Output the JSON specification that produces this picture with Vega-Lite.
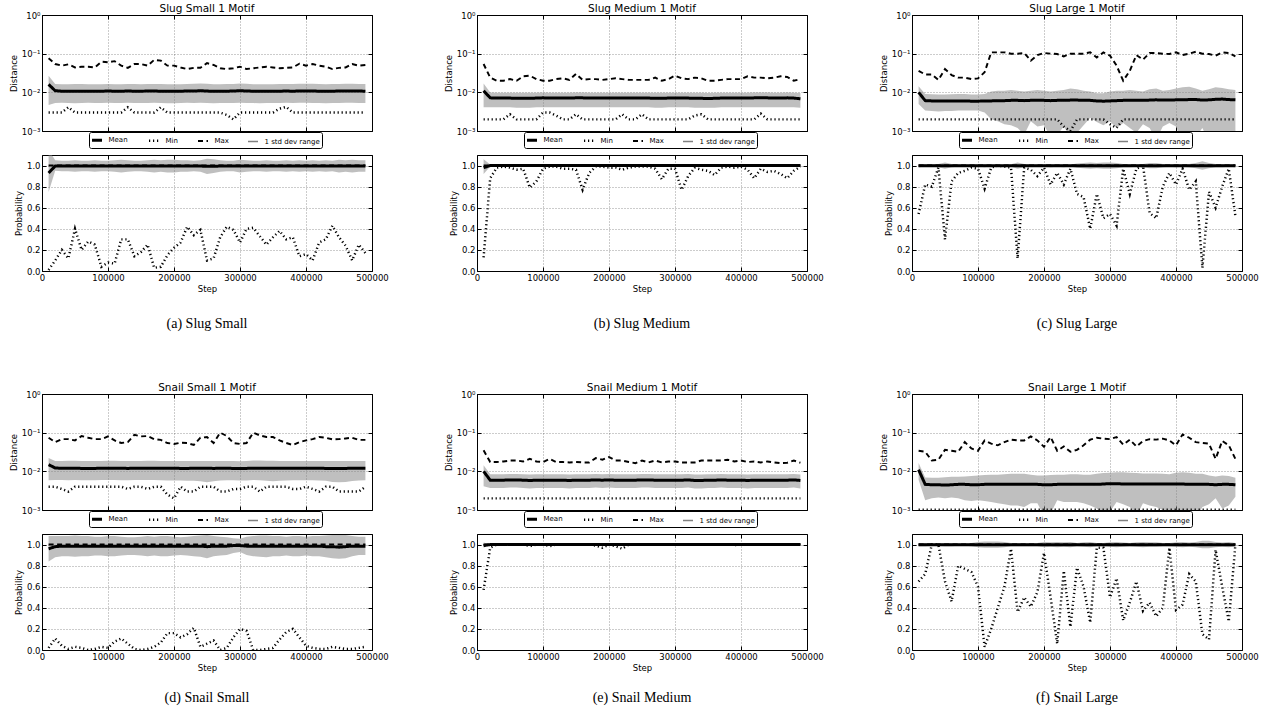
{
"$schema":"https://vega.github.io/schema/vega-lite/v6.json",
"background":"white",
"padding":{"left":8,"top":3,"right":0,"bottom":0},
"config":{
 "font":"DejaVu Sans",
 "view":{"stroke":"#000","strokeWidth":1},
 "axis":{"domain":false,"labelFont":"DejaVu Sans","labelFontSize":8.5,"labelColor":"#000","titleFont":"DejaVu Sans","titleFontSize":8.5,"titleFontWeight":"normal","titleColor":"#000","gridColor":"#000","gridOpacity":0.5,"gridDash":[1,2],"gridWidth":0.8,"tickColor":"#000","tickSize":-4,"labelPadding":6,"titlePadding":3,"labelFlush":false,"labelOverlap":false,"tickCount":20},
 "title":{"font":"DejaVu Sans","fontSize":10.5,"fontWeight":"normal","color":"#000","offset":-3},
 "legend":{"symbolType":"stroke","symbolSize":100,"labelFont":"DejaVu Sans","labelFontSize":7,"labelColor":"#000","strokeColor":"#000","fillColor":"#fff","padding":1.5,"cornerRadius":2,"columnPadding":15,"labelOffset":5}
},
"datasets":{
"a_d":[
{"s":10000,"Mean":0.016,"Min":0.003,"Max":0.076,"lo":0.0047,"hi":0.027},
{"s":20000,"Mean":0.011,"Min":0.003,"Max":0.054,"lo":0.0053,"hi":0.0165},
{"s":30000,"Mean":0.0107,"Min":0.003,"Max":0.049,"lo":0.0054,"hi":0.0162},
{"s":40000,"Mean":0.0106,"Min":0.0041,"Max":0.053,"lo":0.0053,"hi":0.0163},
{"s":50000,"Mean":0.0106,"Min":0.003,"Max":0.044,"lo":0.0052,"hi":0.0164},
{"s":60000,"Mean":0.0107,"Min":0.003,"Max":0.046,"lo":0.0053,"hi":0.0164},
{"s":70000,"Mean":0.0107,"Min":0.003,"Max":0.046,"lo":0.0054,"hi":0.0163},
{"s":80000,"Mean":0.0106,"Min":0.003,"Max":0.044,"lo":0.0053,"hi":0.0162},
{"s":90000,"Mean":0.0107,"Min":0.003,"Max":0.062,"lo":0.0053,"hi":0.0163},
{"s":100000,"Mean":0.0108,"Min":0.003,"Max":0.06,"lo":0.0054,"hi":0.0165},
{"s":110000,"Mean":0.0107,"Min":0.003,"Max":0.064,"lo":0.0053,"hi":0.0163},
{"s":120000,"Mean":0.0107,"Min":0.003,"Max":0.049,"lo":0.0053,"hi":0.0162},
{"s":130000,"Mean":0.0108,"Min":0.0041,"Max":0.043,"lo":0.0054,"hi":0.0164},
{"s":140000,"Mean":0.0107,"Min":0.003,"Max":0.054,"lo":0.0053,"hi":0.0164},
{"s":150000,"Mean":0.0107,"Min":0.003,"Max":0.054,"lo":0.0053,"hi":0.0163},
{"s":160000,"Mean":0.0108,"Min":0.003,"Max":0.049,"lo":0.0053,"hi":0.0164},
{"s":170000,"Mean":0.0108,"Min":0.003,"Max":0.069,"lo":0.0054,"hi":0.0165},
{"s":180000,"Mean":0.0107,"Min":0.0041,"Max":0.066,"lo":0.0053,"hi":0.0164},
{"s":190000,"Mean":0.0106,"Min":0.003,"Max":0.049,"lo":0.0052,"hi":0.0162},
{"s":200000,"Mean":0.0106,"Min":0.003,"Max":0.049,"lo":0.0052,"hi":0.0161},
{"s":210000,"Mean":0.0107,"Min":0.003,"Max":0.044,"lo":0.0053,"hi":0.0163},
{"s":220000,"Mean":0.0108,"Min":0.003,"Max":0.04,"lo":0.0054,"hi":0.0165},
{"s":230000,"Mean":0.0108,"Min":0.003,"Max":0.043,"lo":0.0053,"hi":0.0166},
{"s":240000,"Mean":0.011,"Min":0.003,"Max":0.043,"lo":0.0054,"hi":0.0168},
{"s":250000,"Mean":0.0108,"Min":0.003,"Max":0.057,"lo":0.0053,"hi":0.0166},
{"s":260000,"Mean":0.0106,"Min":0.003,"Max":0.051,"lo":0.0052,"hi":0.0162},
{"s":270000,"Mean":0.0107,"Min":0.003,"Max":0.042,"lo":0.0053,"hi":0.0163},
{"s":280000,"Mean":0.0107,"Min":0.0026,"Max":0.04,"lo":0.0053,"hi":0.0164},
{"s":290000,"Mean":0.0108,"Min":0.002,"Max":0.042,"lo":0.0053,"hi":0.0165},
{"s":300000,"Mean":0.011,"Min":0.003,"Max":0.046,"lo":0.0054,"hi":0.0168},
{"s":310000,"Mean":0.0108,"Min":0.003,"Max":0.04,"lo":0.0053,"hi":0.0166},
{"s":320000,"Mean":0.0107,"Min":0.003,"Max":0.042,"lo":0.0053,"hi":0.0163},
{"s":330000,"Mean":0.0106,"Min":0.003,"Max":0.044,"lo":0.0052,"hi":0.0162},
{"s":340000,"Mean":0.0106,"Min":0.003,"Max":0.046,"lo":0.0053,"hi":0.0162},
{"s":350000,"Mean":0.0107,"Min":0.003,"Max":0.044,"lo":0.0053,"hi":0.0163},
{"s":360000,"Mean":0.0107,"Min":0.0038,"Max":0.042,"lo":0.0053,"hi":0.0164},
{"s":370000,"Mean":0.0108,"Min":0.0042,"Max":0.043,"lo":0.0054,"hi":0.0165},
{"s":380000,"Mean":0.0107,"Min":0.003,"Max":0.044,"lo":0.0053,"hi":0.0164},
{"s":390000,"Mean":0.0108,"Min":0.003,"Max":0.055,"lo":0.0054,"hi":0.0166},
{"s":400000,"Mean":0.0109,"Min":0.003,"Max":0.049,"lo":0.0054,"hi":0.0167},
{"s":410000,"Mean":0.0108,"Min":0.003,"Max":0.054,"lo":0.0053,"hi":0.0166},
{"s":420000,"Mean":0.0107,"Min":0.003,"Max":0.049,"lo":0.0053,"hi":0.0164},
{"s":430000,"Mean":0.0106,"Min":0.003,"Max":0.046,"lo":0.0052,"hi":0.0163},
{"s":440000,"Mean":0.0107,"Min":0.003,"Max":0.04,"lo":0.0053,"hi":0.0164},
{"s":450000,"Mean":0.0108,"Min":0.003,"Max":0.043,"lo":0.0053,"hi":0.0165},
{"s":460000,"Mean":0.0109,"Min":0.003,"Max":0.044,"lo":0.0054,"hi":0.0166},
{"s":470000,"Mean":0.0109,"Min":0.003,"Max":0.054,"lo":0.0054,"hi":0.0166},
{"s":480000,"Mean":0.0108,"Min":0.003,"Max":0.049,"lo":0.0053,"hi":0.0165},
{"s":490000,"Mean":0.0107,"Min":0.003,"Max":0.051,"lo":0.0053,"hi":0.0164}],
"a_p":[
{"s":10000,"Mean":0.93,"Min":0.01,"Max":1,"lo":0.75,"hi":1.15},
{"s":20000,"Mean":0.995,"Min":0.1,"Max":1,"lo":0.95,"hi":1.05},
{"s":30000,"Mean":0.995,"Min":0.2,"Max":1,"lo":0.945,"hi":1.045},
{"s":40000,"Mean":0.995,"Min":0.12,"Max":1,"lo":0.945,"hi":1.045},
{"s":50000,"Mean":0.995,"Min":0.4,"Max":1,"lo":0.94,"hi":1.05},
{"s":60000,"Mean":0.995,"Min":0.2,"Max":1,"lo":0.945,"hi":1.045},
{"s":70000,"Mean":0.995,"Min":0.28,"Max":1,"lo":0.945,"hi":1.045},
{"s":80000,"Mean":0.995,"Min":0.25,"Max":1,"lo":0.94,"hi":1.05},
{"s":90000,"Mean":0.995,"Min":0.04,"Max":1,"lo":0.945,"hi":1.045},
{"s":100000,"Mean":0.995,"Min":0.08,"Max":1,"lo":0.945,"hi":1.045},
{"s":110000,"Mean":0.995,"Min":0.07,"Max":1,"lo":0.94,"hi":1.05},
{"s":120000,"Mean":0.995,"Min":0.3,"Max":1,"lo":0.935,"hi":1.055},
{"s":130000,"Mean":0.995,"Min":0.3,"Max":1,"lo":0.94,"hi":1.05},
{"s":140000,"Mean":0.995,"Min":0.14,"Max":1,"lo":0.945,"hi":1.045},
{"s":150000,"Mean":0.995,"Min":0.18,"Max":1,"lo":0.945,"hi":1.045},
{"s":160000,"Mean":0.995,"Min":0.25,"Max":1,"lo":0.94,"hi":1.05},
{"s":170000,"Mean":0.995,"Min":0.03,"Max":1,"lo":0.935,"hi":1.055},
{"s":180000,"Mean":0.995,"Min":0.04,"Max":1,"lo":0.94,"hi":1.05},
{"s":190000,"Mean":0.995,"Min":0.15,"Max":1,"lo":0.935,"hi":1.055},
{"s":200000,"Mean":0.995,"Min":0.22,"Max":1,"lo":0.935,"hi":1.055},
{"s":210000,"Mean":0.995,"Min":0.27,"Max":1,"lo":0.94,"hi":1.05},
{"s":220000,"Mean":0.995,"Min":0.42,"Max":1,"lo":0.94,"hi":1.05},
{"s":230000,"Mean":0.995,"Min":0.34,"Max":1,"lo":0.945,"hi":1.045},
{"s":240000,"Mean":0.995,"Min":0.39,"Max":1,"lo":0.94,"hi":1.05},
{"s":250000,"Mean":0.993,"Min":0.1,"Max":1,"lo":0.92,"hi":1.065},
{"s":260000,"Mean":0.993,"Min":0.12,"Max":1,"lo":0.93,"hi":1.06},
{"s":270000,"Mean":0.995,"Min":0.32,"Max":1,"lo":0.94,"hi":1.05},
{"s":280000,"Mean":0.995,"Min":0.42,"Max":1,"lo":0.945,"hi":1.045},
{"s":290000,"Mean":0.995,"Min":0.39,"Max":1,"lo":0.945,"hi":1.045},
{"s":300000,"Mean":0.995,"Min":0.27,"Max":1,"lo":0.935,"hi":1.055},
{"s":310000,"Mean":0.995,"Min":0.4,"Max":1,"lo":0.94,"hi":1.05},
{"s":320000,"Mean":0.995,"Min":0.41,"Max":1,"lo":0.945,"hi":1.045},
{"s":330000,"Mean":0.995,"Min":0.33,"Max":1,"lo":0.945,"hi":1.045},
{"s":340000,"Mean":0.995,"Min":0.25,"Max":1,"lo":0.94,"hi":1.05},
{"s":350000,"Mean":0.995,"Min":0.32,"Max":1,"lo":0.945,"hi":1.045},
{"s":360000,"Mean":0.995,"Min":0.38,"Max":1,"lo":0.945,"hi":1.045},
{"s":370000,"Mean":0.995,"Min":0.3,"Max":1,"lo":0.94,"hi":1.05},
{"s":380000,"Mean":0.995,"Min":0.32,"Max":1,"lo":0.945,"hi":1.045},
{"s":390000,"Mean":0.995,"Min":0.14,"Max":1,"lo":0.94,"hi":1.05},
{"s":400000,"Mean":0.995,"Min":0.16,"Max":1,"lo":0.945,"hi":1.045},
{"s":410000,"Mean":0.995,"Min":0.1,"Max":1,"lo":0.94,"hi":1.05},
{"s":420000,"Mean":0.995,"Min":0.27,"Max":1,"lo":0.945,"hi":1.045},
{"s":430000,"Mean":0.995,"Min":0.3,"Max":1,"lo":0.94,"hi":1.05},
{"s":440000,"Mean":0.995,"Min":0.43,"Max":1,"lo":0.945,"hi":1.045},
{"s":450000,"Mean":0.995,"Min":0.32,"Max":1,"lo":0.935,"hi":1.055},
{"s":460000,"Mean":0.995,"Min":0.24,"Max":1,"lo":0.94,"hi":1.05},
{"s":470000,"Mean":0.995,"Min":0.1,"Max":1,"lo":0.935,"hi":1.055},
{"s":480000,"Mean":0.995,"Min":0.25,"Max":1,"lo":0.94,"hi":1.05},
{"s":490000,"Mean":0.995,"Min":0.17,"Max":1,"lo":0.94,"hi":1.05}],
"b_d":[
{"s":10000,"Mean":0.011,"Min":0.002,"Max":0.054,"lo":0.0041,"hi":0.017},
{"s":20000,"Mean":0.0072,"Min":0.002,"Max":0.024,"lo":0.0041,"hi":0.0099},
{"s":30000,"Mean":0.0071,"Min":0.002,"Max":0.02,"lo":0.0041,"hi":0.0098},
{"s":40000,"Mean":0.0071,"Min":0.002,"Max":0.02,"lo":0.0041,"hi":0.0098},
{"s":50000,"Mean":0.0071,"Min":0.0027,"Max":0.022,"lo":0.0041,"hi":0.0098},
{"s":60000,"Mean":0.007,"Min":0.002,"Max":0.02,"lo":0.004,"hi":0.0097},
{"s":70000,"Mean":0.007,"Min":0.002,"Max":0.026,"lo":0.004,"hi":0.0097},
{"s":80000,"Mean":0.007,"Min":0.002,"Max":0.027,"lo":0.004,"hi":0.0097},
{"s":90000,"Mean":0.0071,"Min":0.002,"Max":0.022,"lo":0.0041,"hi":0.0098},
{"s":100000,"Mean":0.0072,"Min":0.003,"Max":0.02,"lo":0.0041,"hi":0.0099},
{"s":110000,"Mean":0.0071,"Min":0.003,"Max":0.02,"lo":0.0041,"hi":0.0098},
{"s":120000,"Mean":0.0071,"Min":0.0025,"Max":0.022,"lo":0.0041,"hi":0.0098},
{"s":130000,"Mean":0.0071,"Min":0.002,"Max":0.023,"lo":0.0041,"hi":0.0098},
{"s":140000,"Mean":0.0071,"Min":0.002,"Max":0.021,"lo":0.0041,"hi":0.0098},
{"s":150000,"Mean":0.0072,"Min":0.0027,"Max":0.03,"lo":0.0041,"hi":0.0099},
{"s":160000,"Mean":0.0072,"Min":0.002,"Max":0.021,"lo":0.0041,"hi":0.0099},
{"s":170000,"Mean":0.0071,"Min":0.002,"Max":0.022,"lo":0.0041,"hi":0.0098},
{"s":180000,"Mean":0.0071,"Min":0.002,"Max":0.022,"lo":0.0041,"hi":0.0098},
{"s":190000,"Mean":0.0071,"Min":0.002,"Max":0.021,"lo":0.0041,"hi":0.0098},
{"s":200000,"Mean":0.0071,"Min":0.002,"Max":0.022,"lo":0.0041,"hi":0.0098},
{"s":210000,"Mean":0.0071,"Min":0.002,"Max":0.023,"lo":0.0041,"hi":0.0098},
{"s":220000,"Mean":0.0071,"Min":0.0027,"Max":0.022,"lo":0.0041,"hi":0.0098},
{"s":230000,"Mean":0.0071,"Min":0.002,"Max":0.021,"lo":0.0041,"hi":0.0098},
{"s":240000,"Mean":0.0071,"Min":0.002,"Max":0.021,"lo":0.0041,"hi":0.0098},
{"s":250000,"Mean":0.0071,"Min":0.0027,"Max":0.021,"lo":0.0041,"hi":0.0098},
{"s":260000,"Mean":0.0071,"Min":0.002,"Max":0.021,"lo":0.0041,"hi":0.0098},
{"s":270000,"Mean":0.007,"Min":0.002,"Max":0.024,"lo":0.004,"hi":0.0097},
{"s":280000,"Mean":0.007,"Min":0.002,"Max":0.02,"lo":0.004,"hi":0.0097},
{"s":290000,"Mean":0.0071,"Min":0.002,"Max":0.022,"lo":0.0041,"hi":0.0098},
{"s":300000,"Mean":0.0071,"Min":0.002,"Max":0.027,"lo":0.0041,"hi":0.0098},
{"s":310000,"Mean":0.0071,"Min":0.002,"Max":0.023,"lo":0.0041,"hi":0.0098},
{"s":320000,"Mean":0.0071,"Min":0.002,"Max":0.022,"lo":0.0041,"hi":0.0098},
{"s":330000,"Mean":0.007,"Min":0.0025,"Max":0.024,"lo":0.004,"hi":0.0097},
{"s":340000,"Mean":0.007,"Min":0.0027,"Max":0.023,"lo":0.004,"hi":0.0097},
{"s":350000,"Mean":0.0069,"Min":0.002,"Max":0.02,"lo":0.004,"hi":0.0096},
{"s":360000,"Mean":0.007,"Min":0.002,"Max":0.02,"lo":0.004,"hi":0.0097},
{"s":370000,"Mean":0.0071,"Min":0.002,"Max":0.021,"lo":0.0041,"hi":0.0098},
{"s":380000,"Mean":0.0071,"Min":0.002,"Max":0.022,"lo":0.0041,"hi":0.0098},
{"s":390000,"Mean":0.0071,"Min":0.002,"Max":0.022,"lo":0.0041,"hi":0.0098},
{"s":400000,"Mean":0.0071,"Min":0.002,"Max":0.022,"lo":0.0041,"hi":0.0098},
{"s":410000,"Mean":0.0071,"Min":0.002,"Max":0.026,"lo":0.0041,"hi":0.0098},
{"s":420000,"Mean":0.0072,"Min":0.002,"Max":0.024,"lo":0.0041,"hi":0.0099},
{"s":430000,"Mean":0.0072,"Min":0.0028,"Max":0.024,"lo":0.0041,"hi":0.0099},
{"s":440000,"Mean":0.0072,"Min":0.002,"Max":0.023,"lo":0.0041,"hi":0.0099},
{"s":450000,"Mean":0.0071,"Min":0.002,"Max":0.024,"lo":0.0041,"hi":0.0098},
{"s":460000,"Mean":0.0071,"Min":0.002,"Max":0.026,"lo":0.0041,"hi":0.0098},
{"s":470000,"Mean":0.0072,"Min":0.002,"Max":0.025,"lo":0.0041,"hi":0.0099},
{"s":480000,"Mean":0.0071,"Min":0.002,"Max":0.02,"lo":0.0041,"hi":0.0098},
{"s":490000,"Mean":0.0068,"Min":0.002,"Max":0.022,"lo":0.004,"hi":0.0096}],
"b_p":[
{"s":10000,"Mean":0.98,"Min":0.13,"Max":1,"lo":0.92,"hi":1.06},
{"s":20000,"Mean":1,"Min":0.88,"Max":1,"lo":0.99,"hi":1.01},
{"s":30000,"Mean":1,"Min":0.98,"Max":1,"lo":0.997,"hi":1.003},
{"s":40000,"Mean":1,"Min":0.99,"Max":1,"lo":0.997,"hi":1.003},
{"s":50000,"Mean":1,"Min":0.98,"Max":1,"lo":0.997,"hi":1.003},
{"s":60000,"Mean":1,"Min":0.96,"Max":1,"lo":0.997,"hi":1.003},
{"s":70000,"Mean":1,"Min":0.97,"Max":1,"lo":0.997,"hi":1.003},
{"s":80000,"Mean":1,"Min":0.79,"Max":1,"lo":0.997,"hi":1.003},
{"s":90000,"Mean":1,"Min":0.85,"Max":1,"lo":0.997,"hi":1.003},
{"s":100000,"Mean":1,"Min":0.97,"Max":1,"lo":0.997,"hi":1.003},
{"s":110000,"Mean":1,"Min":0.99,"Max":1,"lo":0.997,"hi":1.003},
{"s":120000,"Mean":1,"Min":0.99,"Max":1,"lo":0.997,"hi":1.003},
{"s":130000,"Mean":1,"Min":0.97,"Max":1,"lo":0.997,"hi":1.003},
{"s":140000,"Mean":1,"Min":0.97,"Max":1,"lo":0.997,"hi":1.003},
{"s":150000,"Mean":1,"Min":0.96,"Max":1,"lo":0.997,"hi":1.003},
{"s":160000,"Mean":1,"Min":0.77,"Max":1,"lo":0.997,"hi":1.003},
{"s":170000,"Mean":1,"Min":0.93,"Max":1,"lo":0.997,"hi":1.003},
{"s":180000,"Mean":1,"Min":0.99,"Max":1,"lo":0.997,"hi":1.003},
{"s":190000,"Mean":1,"Min":0.99,"Max":1,"lo":0.997,"hi":1.003},
{"s":200000,"Mean":1,"Min":0.98,"Max":1,"lo":0.997,"hi":1.003},
{"s":210000,"Mean":1,"Min":0.98,"Max":1,"lo":0.997,"hi":1.003},
{"s":220000,"Mean":1,"Min":0.96,"Max":1,"lo":0.997,"hi":1.003},
{"s":230000,"Mean":1,"Min":0.98,"Max":1,"lo":0.997,"hi":1.003},
{"s":240000,"Mean":1,"Min":0.99,"Max":1,"lo":0.997,"hi":1.003},
{"s":250000,"Mean":1,"Min":0.99,"Max":1,"lo":0.997,"hi":1.003},
{"s":260000,"Mean":1,"Min":0.99,"Max":1,"lo":0.997,"hi":1.003},
{"s":270000,"Mean":1,"Min":0.97,"Max":1,"lo":0.997,"hi":1.003},
{"s":280000,"Mean":1,"Min":0.87,"Max":1,"lo":0.997,"hi":1.003},
{"s":290000,"Mean":1,"Min":0.97,"Max":1,"lo":0.997,"hi":1.003},
{"s":300000,"Mean":1,"Min":0.97,"Max":1,"lo":0.997,"hi":1.003},
{"s":310000,"Mean":1,"Min":0.77,"Max":1,"lo":0.997,"hi":1.003},
{"s":320000,"Mean":1,"Min":0.9,"Max":1,"lo":0.997,"hi":1.003},
{"s":330000,"Mean":1,"Min":0.98,"Max":1,"lo":0.997,"hi":1.003},
{"s":340000,"Mean":1,"Min":0.96,"Max":1,"lo":0.997,"hi":1.003},
{"s":350000,"Mean":1,"Min":0.95,"Max":1,"lo":0.997,"hi":1.003},
{"s":360000,"Mean":1,"Min":0.91,"Max":1,"lo":0.997,"hi":1.003},
{"s":370000,"Mean":1,"Min":0.98,"Max":1,"lo":0.997,"hi":1.003},
{"s":380000,"Mean":1,"Min":0.99,"Max":1,"lo":0.997,"hi":1.003},
{"s":390000,"Mean":1,"Min":0.98,"Max":1,"lo":0.997,"hi":1.003},
{"s":400000,"Mean":1,"Min":0.99,"Max":1,"lo":0.997,"hi":1.003},
{"s":410000,"Mean":1,"Min":0.96,"Max":1,"lo":0.997,"hi":1.003},
{"s":420000,"Mean":1,"Min":0.88,"Max":1,"lo":0.997,"hi":1.003},
{"s":430000,"Mean":1,"Min":0.97,"Max":1,"lo":0.997,"hi":1.003},
{"s":440000,"Mean":1,"Min":0.94,"Max":1,"lo":0.997,"hi":1.003},
{"s":450000,"Mean":1,"Min":0.95,"Max":1,"lo":0.997,"hi":1.003},
{"s":460000,"Mean":1,"Min":0.92,"Max":1,"lo":0.997,"hi":1.003},
{"s":470000,"Mean":1,"Min":0.88,"Max":1,"lo":0.997,"hi":1.003},
{"s":480000,"Mean":1,"Min":0.95,"Max":1,"lo":0.997,"hi":1.003},
{"s":490000,"Mean":1,"Min":0.99,"Max":1,"lo":0.997,"hi":1.003}],
"c_d":[
{"s":10000,"Mean":0.01,"Min":0.002,"Max":0.036,"lo":0.005,"hi":0.0143},
{"s":20000,"Mean":0.0061,"Min":0.002,"Max":0.029,"lo":0.0034,"hi":0.009},
{"s":30000,"Mean":0.006,"Min":0.002,"Max":0.029,"lo":0.0033,"hi":0.0089},
{"s":40000,"Mean":0.006,"Min":0.002,"Max":0.021,"lo":0.0032,"hi":0.0088},
{"s":50000,"Mean":0.006,"Min":0.002,"Max":0.04,"lo":0.0033,"hi":0.0088},
{"s":60000,"Mean":0.006,"Min":0.002,"Max":0.028,"lo":0.0033,"hi":0.0089},
{"s":70000,"Mean":0.006,"Min":0.002,"Max":0.024,"lo":0.0034,"hi":0.009},
{"s":80000,"Mean":0.006,"Min":0.002,"Max":0.024,"lo":0.0034,"hi":0.009},
{"s":90000,"Mean":0.0059,"Min":0.002,"Max":0.022,"lo":0.0034,"hi":0.0088},
{"s":100000,"Mean":0.0059,"Min":0.002,"Max":0.023,"lo":0.0034,"hi":0.0088},
{"s":110000,"Mean":0.006,"Min":0.002,"Max":0.033,"lo":0.003,"hi":0.009},
{"s":120000,"Mean":0.006,"Min":0.002,"Max":0.108,"lo":0.002,"hi":0.0105},
{"s":130000,"Mean":0.0061,"Min":0.002,"Max":0.108,"lo":0.0018,"hi":0.011},
{"s":140000,"Mean":0.0061,"Min":0.002,"Max":0.108,"lo":0.0015,"hi":0.011},
{"s":150000,"Mean":0.0062,"Min":0.002,"Max":0.1,"lo":0.0014,"hi":0.0115},
{"s":160000,"Mean":0.0062,"Min":0.002,"Max":0.1,"lo":0.0012,"hi":0.011},
{"s":170000,"Mean":0.0061,"Min":0.002,"Max":0.104,"lo":0.0008,"hi":0.0105},
{"s":180000,"Mean":0.0062,"Min":0.002,"Max":0.066,"lo":0.0018,"hi":0.011},
{"s":190000,"Mean":0.0062,"Min":0.002,"Max":0.092,"lo":0.0013,"hi":0.0115},
{"s":200000,"Mean":0.0062,"Min":0.002,"Max":0.104,"lo":0.0014,"hi":0.011},
{"s":210000,"Mean":0.0061,"Min":0.002,"Max":0.1,"lo":0.0007,"hi":0.0105},
{"s":220000,"Mean":0.0062,"Min":0.002,"Max":0.098,"lo":0.0008,"hi":0.011},
{"s":230000,"Mean":0.0062,"Min":0.0013,"Max":0.085,"lo":0.0013,"hi":0.0115},
{"s":240000,"Mean":0.0063,"Min":0.001,"Max":0.1,"lo":0.0007,"hi":0.0125},
{"s":250000,"Mean":0.0063,"Min":0.002,"Max":0.1,"lo":0.0009,"hi":0.012},
{"s":260000,"Mean":0.0062,"Min":0.002,"Max":0.1,"lo":0.0014,"hi":0.011},
{"s":270000,"Mean":0.0062,"Min":0.002,"Max":0.108,"lo":0.0022,"hi":0.0105},
{"s":280000,"Mean":0.006,"Min":0.002,"Max":0.08,"lo":0.0017,"hi":0.0095},
{"s":290000,"Mean":0.0059,"Min":0.002,"Max":0.108,"lo":0.0014,"hi":0.0095},
{"s":300000,"Mean":0.006,"Min":0.0015,"Max":0.089,"lo":0.0018,"hi":0.0105},
{"s":310000,"Mean":0.0061,"Min":0.0012,"Max":0.049,"lo":0.0012,"hi":0.011},
{"s":320000,"Mean":0.0062,"Min":0.002,"Max":0.02,"lo":0.0016,"hi":0.011},
{"s":330000,"Mean":0.0062,"Min":0.002,"Max":0.036,"lo":0.0012,"hi":0.0115},
{"s":340000,"Mean":0.0062,"Min":0.002,"Max":0.092,"lo":0.0009,"hi":0.011},
{"s":350000,"Mean":0.0062,"Min":0.002,"Max":0.07,"lo":0.0015,"hi":0.0105},
{"s":360000,"Mean":0.0063,"Min":0.002,"Max":0.104,"lo":0.0012,"hi":0.012},
{"s":370000,"Mean":0.0064,"Min":0.002,"Max":0.104,"lo":0.0006,"hi":0.0125},
{"s":380000,"Mean":0.0063,"Min":0.002,"Max":0.1,"lo":0.0013,"hi":0.011},
{"s":390000,"Mean":0.0063,"Min":0.002,"Max":0.098,"lo":0.0016,"hi":0.0115},
{"s":400000,"Mean":0.0064,"Min":0.002,"Max":0.108,"lo":0.0013,"hi":0.0125},
{"s":410000,"Mean":0.0064,"Min":0.002,"Max":0.092,"lo":0.0005,"hi":0.0135},
{"s":420000,"Mean":0.0065,"Min":0.002,"Max":0.1,"lo":0.0005,"hi":0.014},
{"s":430000,"Mean":0.0065,"Min":0.002,"Max":0.112,"lo":0.0007,"hi":0.0125},
{"s":440000,"Mean":0.0063,"Min":0.002,"Max":0.1,"lo":0.0012,"hi":0.011},
{"s":450000,"Mean":0.0064,"Min":0.002,"Max":0.098,"lo":0.0005,"hi":0.012},
{"s":460000,"Mean":0.0066,"Min":0.002,"Max":0.089,"lo":0.0005,"hi":0.0135},
{"s":470000,"Mean":0.0067,"Min":0.002,"Max":0.108,"lo":0.0005,"hi":0.013},
{"s":480000,"Mean":0.0065,"Min":0.002,"Max":0.104,"lo":0.0005,"hi":0.012},
{"s":490000,"Mean":0.0064,"Min":0.002,"Max":0.085,"lo":0.0005,"hi":0.0115}],
"c_p":[
{"s":10000,"Mean":0.998,"Min":0.54,"Max":1,"lo":0.985,"hi":1.015},
{"s":20000,"Mean":0.998,"Min":0.82,"Max":1,"lo":0.988,"hi":1.012},
{"s":30000,"Mean":0.998,"Min":0.8,"Max":1,"lo":0.988,"hi":1.012},
{"s":40000,"Mean":0.998,"Min":0.98,"Max":1,"lo":0.985,"hi":1.015},
{"s":50000,"Mean":0.998,"Min":0.3,"Max":1,"lo":0.97,"hi":1.03},
{"s":60000,"Mean":0.998,"Min":0.85,"Max":1,"lo":0.985,"hi":1.015},
{"s":70000,"Mean":0.998,"Min":0.93,"Max":1,"lo":0.988,"hi":1.012},
{"s":80000,"Mean":0.998,"Min":0.95,"Max":1,"lo":0.99,"hi":1.01},
{"s":90000,"Mean":0.998,"Min":0.98,"Max":1,"lo":0.99,"hi":1.01},
{"s":100000,"Mean":0.998,"Min":0.97,"Max":1,"lo":0.99,"hi":1.01},
{"s":110000,"Mean":0.998,"Min":0.78,"Max":1,"lo":0.985,"hi":1.015},
{"s":120000,"Mean":0.998,"Min":0.98,"Max":1,"lo":0.99,"hi":1.01},
{"s":130000,"Mean":0.998,"Min":1,"Max":1,"lo":0.99,"hi":1.01},
{"s":140000,"Mean":0.998,"Min":0.99,"Max":1,"lo":0.99,"hi":1.01},
{"s":150000,"Mean":0.998,"Min":0.98,"Max":1,"lo":0.988,"hi":1.012},
{"s":160000,"Mean":0.998,"Min":0.12,"Max":1,"lo":0.97,"hi":1.03},
{"s":170000,"Mean":0.998,"Min":0.98,"Max":1,"lo":0.985,"hi":1.015},
{"s":180000,"Mean":0.998,"Min":0.96,"Max":1,"lo":0.99,"hi":1.01},
{"s":190000,"Mean":0.998,"Min":0.9,"Max":1,"lo":0.988,"hi":1.012},
{"s":200000,"Mean":0.998,"Min":0.98,"Max":1,"lo":0.99,"hi":1.01},
{"s":210000,"Mean":0.998,"Min":0.82,"Max":1,"lo":0.985,"hi":1.015},
{"s":220000,"Mean":0.998,"Min":0.93,"Max":1,"lo":0.988,"hi":1.012},
{"s":230000,"Mean":0.998,"Min":0.82,"Max":1,"lo":0.985,"hi":1.015},
{"s":240000,"Mean":0.998,"Min":0.97,"Max":1,"lo":0.99,"hi":1.01},
{"s":250000,"Mean":0.998,"Min":0.73,"Max":1,"lo":0.98,"hi":1.02},
{"s":260000,"Mean":0.998,"Min":0.7,"Max":1,"lo":0.975,"hi":1.025},
{"s":270000,"Mean":0.998,"Min":0.4,"Max":1,"lo":0.97,"hi":1.03},
{"s":280000,"Mean":0.998,"Min":0.73,"Max":1,"lo":0.975,"hi":1.025},
{"s":290000,"Mean":0.998,"Min":0.5,"Max":1,"lo":0.97,"hi":1.03},
{"s":300000,"Mean":0.998,"Min":0.54,"Max":1,"lo":0.97,"hi":1.03},
{"s":310000,"Mean":0.998,"Min":0.43,"Max":1,"lo":0.975,"hi":1.025},
{"s":320000,"Mean":0.998,"Min":0.97,"Max":1,"lo":0.985,"hi":1.015},
{"s":330000,"Mean":0.998,"Min":0.73,"Max":1,"lo":0.985,"hi":1.015},
{"s":340000,"Mean":0.998,"Min":0.97,"Max":1,"lo":0.988,"hi":1.012},
{"s":350000,"Mean":0.998,"Min":1,"Max":1,"lo":0.985,"hi":1.015},
{"s":360000,"Mean":0.998,"Min":0.55,"Max":1,"lo":0.975,"hi":1.025},
{"s":370000,"Mean":0.998,"Min":0.5,"Max":1,"lo":0.975,"hi":1.025},
{"s":380000,"Mean":0.998,"Min":0.8,"Max":1,"lo":0.985,"hi":1.015},
{"s":390000,"Mean":0.998,"Min":0.93,"Max":1,"lo":0.988,"hi":1.012},
{"s":400000,"Mean":0.998,"Min":0.82,"Max":1,"lo":0.985,"hi":1.015},
{"s":410000,"Mean":0.998,"Min":0.97,"Max":1,"lo":0.988,"hi":1.012},
{"s":420000,"Mean":0.998,"Min":0.77,"Max":1,"lo":0.985,"hi":1.015},
{"s":430000,"Mean":0.998,"Min":0.85,"Max":1,"lo":0.975,"hi":1.025},
{"s":440000,"Mean":0.998,"Min":0.03,"Max":1,"lo":0.96,"hi":1.04},
{"s":450000,"Mean":0.998,"Min":0.75,"Max":1,"lo":0.975,"hi":1.025},
{"s":460000,"Mean":0.998,"Min":0.6,"Max":1,"lo":0.985,"hi":1.015},
{"s":470000,"Mean":0.998,"Min":0.8,"Max":1,"lo":0.985,"hi":1.015},
{"s":480000,"Mean":0.998,"Min":0.97,"Max":1,"lo":0.988,"hi":1.012},
{"s":490000,"Mean":0.998,"Min":0.52,"Max":1,"lo":0.985,"hi":1.015}],
"d_d":[
{"s":10000,"Mean":0.0149,"Min":0.004,"Max":0.074,"lo":0.0059,"hi":0.022},
{"s":20000,"Mean":0.0122,"Min":0.004,"Max":0.057,"lo":0.006,"hi":0.0185},
{"s":30000,"Mean":0.012,"Min":0.0035,"Max":0.068,"lo":0.006,"hi":0.0185},
{"s":40000,"Mean":0.012,"Min":0.003,"Max":0.068,"lo":0.0059,"hi":0.0187},
{"s":50000,"Mean":0.012,"Min":0.004,"Max":0.063,"lo":0.006,"hi":0.0187},
{"s":60000,"Mean":0.0119,"Min":0.004,"Max":0.082,"lo":0.0059,"hi":0.0185},
{"s":70000,"Mean":0.0119,"Min":0.004,"Max":0.074,"lo":0.0059,"hi":0.0184},
{"s":80000,"Mean":0.0119,"Min":0.004,"Max":0.068,"lo":0.0059,"hi":0.0184},
{"s":90000,"Mean":0.012,"Min":0.004,"Max":0.068,"lo":0.006,"hi":0.0186},
{"s":100000,"Mean":0.0121,"Min":0.004,"Max":0.08,"lo":0.006,"hi":0.0188},
{"s":110000,"Mean":0.0121,"Min":0.004,"Max":0.063,"lo":0.006,"hi":0.0187},
{"s":120000,"Mean":0.012,"Min":0.004,"Max":0.054,"lo":0.0059,"hi":0.0185},
{"s":130000,"Mean":0.0119,"Min":0.0035,"Max":0.057,"lo":0.0059,"hi":0.0184},
{"s":140000,"Mean":0.012,"Min":0.004,"Max":0.088,"lo":0.006,"hi":0.0186},
{"s":150000,"Mean":0.012,"Min":0.004,"Max":0.08,"lo":0.006,"hi":0.0186},
{"s":160000,"Mean":0.0121,"Min":0.0035,"Max":0.082,"lo":0.006,"hi":0.0188},
{"s":170000,"Mean":0.0121,"Min":0.004,"Max":0.068,"lo":0.006,"hi":0.0187},
{"s":180000,"Mean":0.012,"Min":0.004,"Max":0.065,"lo":0.0059,"hi":0.0186},
{"s":190000,"Mean":0.012,"Min":0.0025,"Max":0.054,"lo":0.0058,"hi":0.0186},
{"s":200000,"Mean":0.012,"Min":0.002,"Max":0.051,"lo":0.0058,"hi":0.0185},
{"s":210000,"Mean":0.0119,"Min":0.004,"Max":0.055,"lo":0.0058,"hi":0.0184},
{"s":220000,"Mean":0.0119,"Min":0.003,"Max":0.054,"lo":0.0057,"hi":0.0184},
{"s":230000,"Mean":0.012,"Min":0.003,"Max":0.048,"lo":0.0057,"hi":0.0185},
{"s":240000,"Mean":0.012,"Min":0.004,"Max":0.074,"lo":0.0055,"hi":0.0186},
{"s":250000,"Mean":0.012,"Min":0.004,"Max":0.077,"lo":0.0052,"hi":0.0185},
{"s":260000,"Mean":0.0119,"Min":0.004,"Max":0.054,"lo":0.0055,"hi":0.0184},
{"s":270000,"Mean":0.012,"Min":0.003,"Max":0.1,"lo":0.0058,"hi":0.0185},
{"s":280000,"Mean":0.012,"Min":0.003,"Max":0.082,"lo":0.0059,"hi":0.0186},
{"s":290000,"Mean":0.0119,"Min":0.0035,"Max":0.054,"lo":0.0059,"hi":0.0184},
{"s":300000,"Mean":0.0118,"Min":0.0035,"Max":0.051,"lo":0.0058,"hi":0.0182},
{"s":310000,"Mean":0.0119,"Min":0.004,"Max":0.054,"lo":0.0058,"hi":0.0184},
{"s":320000,"Mean":0.0121,"Min":0.004,"Max":0.1,"lo":0.006,"hi":0.019},
{"s":330000,"Mean":0.0121,"Min":0.003,"Max":0.085,"lo":0.0059,"hi":0.019},
{"s":340000,"Mean":0.012,"Min":0.004,"Max":0.077,"lo":0.0057,"hi":0.0188},
{"s":350000,"Mean":0.012,"Min":0.004,"Max":0.077,"lo":0.0055,"hi":0.0187},
{"s":360000,"Mean":0.012,"Min":0.004,"Max":0.063,"lo":0.0057,"hi":0.0186},
{"s":370000,"Mean":0.012,"Min":0.004,"Max":0.054,"lo":0.0058,"hi":0.0186},
{"s":380000,"Mean":0.012,"Min":0.0035,"Max":0.048,"lo":0.0059,"hi":0.0185},
{"s":390000,"Mean":0.012,"Min":0.0035,"Max":0.057,"lo":0.0059,"hi":0.0185},
{"s":400000,"Mean":0.012,"Min":0.004,"Max":0.063,"lo":0.0059,"hi":0.0186},
{"s":410000,"Mean":0.012,"Min":0.0035,"Max":0.068,"lo":0.0059,"hi":0.0186},
{"s":420000,"Mean":0.012,"Min":0.003,"Max":0.077,"lo":0.0058,"hi":0.0186},
{"s":430000,"Mean":0.0119,"Min":0.004,"Max":0.074,"lo":0.0057,"hi":0.0185},
{"s":440000,"Mean":0.0119,"Min":0.004,"Max":0.067,"lo":0.0053,"hi":0.0185},
{"s":450000,"Mean":0.0119,"Min":0.003,"Max":0.068,"lo":0.0052,"hi":0.0184},
{"s":460000,"Mean":0.0119,"Min":0.003,"Max":0.071,"lo":0.0053,"hi":0.0184},
{"s":470000,"Mean":0.012,"Min":0.003,"Max":0.074,"lo":0.0056,"hi":0.0185},
{"s":480000,"Mean":0.012,"Min":0.003,"Max":0.065,"lo":0.0058,"hi":0.0186},
{"s":490000,"Mean":0.012,"Min":0.004,"Max":0.065,"lo":0.0059,"hi":0.0186}],
"d_p":[
{"s":10000,"Mean":0.96,"Min":0.02,"Max":1,"lo":0.84,"hi":1.08},
{"s":20000,"Mean":0.98,"Min":0.11,"Max":1,"lo":0.88,"hi":1.08},
{"s":30000,"Mean":0.985,"Min":0.04,"Max":1,"lo":0.89,"hi":1.08},
{"s":40000,"Mean":0.985,"Min":0.01,"Max":1,"lo":0.89,"hi":1.08},
{"s":50000,"Mean":0.985,"Min":0.03,"Max":1,"lo":0.885,"hi":1.085},
{"s":60000,"Mean":0.985,"Min":0.02,"Max":1,"lo":0.89,"hi":1.08},
{"s":70000,"Mean":0.985,"Min":0,"Max":1,"lo":0.89,"hi":1.08},
{"s":80000,"Mean":0.985,"Min":0.01,"Max":1,"lo":0.895,"hi":1.075},
{"s":90000,"Mean":0.985,"Min":0.03,"Max":1,"lo":0.895,"hi":1.075},
{"s":100000,"Mean":0.985,"Min":0.02,"Max":1,"lo":0.89,"hi":1.08},
{"s":110000,"Mean":0.985,"Min":0.08,"Max":1,"lo":0.89,"hi":1.08},
{"s":120000,"Mean":0.985,"Min":0.11,"Max":1,"lo":0.895,"hi":1.075},
{"s":130000,"Mean":0.985,"Min":0.06,"Max":1,"lo":0.9,"hi":1.07},
{"s":140000,"Mean":0.985,"Min":0.01,"Max":1,"lo":0.9,"hi":1.07},
{"s":150000,"Mean":0.985,"Min":0,"Max":1,"lo":0.895,"hi":1.075},
{"s":160000,"Mean":0.985,"Min":0.01,"Max":1,"lo":0.89,"hi":1.08},
{"s":170000,"Mean":0.985,"Min":0.03,"Max":1,"lo":0.895,"hi":1.075},
{"s":180000,"Mean":0.985,"Min":0.07,"Max":1,"lo":0.89,"hi":1.08},
{"s":190000,"Mean":0.985,"Min":0.16,"Max":1,"lo":0.89,"hi":1.08},
{"s":200000,"Mean":0.985,"Min":0.16,"Max":1,"lo":0.895,"hi":1.075},
{"s":210000,"Mean":0.985,"Min":0.12,"Max":1,"lo":0.9,"hi":1.07},
{"s":220000,"Mean":0.985,"Min":0.15,"Max":1,"lo":0.895,"hi":1.075},
{"s":230000,"Mean":0.985,"Min":0.21,"Max":1,"lo":0.89,"hi":1.08},
{"s":240000,"Mean":0.985,"Min":0.03,"Max":1,"lo":0.885,"hi":1.085},
{"s":250000,"Mean":0.98,"Min":0.06,"Max":1,"lo":0.87,"hi":1.09},
{"s":260000,"Mean":0.985,"Min":0.09,"Max":1,"lo":0.89,"hi":1.08},
{"s":270000,"Mean":0.985,"Min":0,"Max":1,"lo":0.895,"hi":1.075},
{"s":280000,"Mean":0.985,"Min":0.02,"Max":1,"lo":0.9,"hi":1.07},
{"s":290000,"Mean":0.99,"Min":0.12,"Max":1,"lo":0.92,"hi":1.06},
{"s":300000,"Mean":0.99,"Min":0.2,"Max":1,"lo":0.93,"hi":1.055},
{"s":310000,"Mean":0.985,"Min":0.18,"Max":1,"lo":0.9,"hi":1.075},
{"s":320000,"Mean":0.985,"Min":0,"Max":1,"lo":0.89,"hi":1.08},
{"s":330000,"Mean":0.985,"Min":0,"Max":1,"lo":0.885,"hi":1.085},
{"s":340000,"Mean":0.985,"Min":0.01,"Max":1,"lo":0.88,"hi":1.085},
{"s":350000,"Mean":0.985,"Min":0.02,"Max":1,"lo":0.89,"hi":1.08},
{"s":360000,"Mean":0.985,"Min":0.1,"Max":1,"lo":0.89,"hi":1.08},
{"s":370000,"Mean":0.985,"Min":0.17,"Max":1,"lo":0.895,"hi":1.075},
{"s":380000,"Mean":0.985,"Min":0.2,"Max":1,"lo":0.89,"hi":1.08},
{"s":390000,"Mean":0.985,"Min":0.12,"Max":1,"lo":0.89,"hi":1.08},
{"s":400000,"Mean":0.985,"Min":0.04,"Max":1,"lo":0.895,"hi":1.075},
{"s":410000,"Mean":0.985,"Min":0.02,"Max":1,"lo":0.89,"hi":1.08},
{"s":420000,"Mean":0.985,"Min":0.01,"Max":1,"lo":0.89,"hi":1.08},
{"s":430000,"Mean":0.98,"Min":0.01,"Max":1,"lo":0.88,"hi":1.085},
{"s":440000,"Mean":0.98,"Min":0.03,"Max":1,"lo":0.87,"hi":1.09},
{"s":450000,"Mean":0.975,"Min":0.02,"Max":1,"lo":0.865,"hi":1.09},
{"s":460000,"Mean":0.98,"Min":0.01,"Max":1,"lo":0.87,"hi":1.09},
{"s":470000,"Mean":0.985,"Min":0.01,"Max":1,"lo":0.89,"hi":1.08},
{"s":480000,"Mean":0.985,"Min":0.02,"Max":1,"lo":0.9,"hi":1.075},
{"s":490000,"Mean":0.985,"Min":0.03,"Max":1,"lo":0.9,"hi":1.075}],
"e_d":[
{"s":10000,"Mean":0.01,"Min":0.002,"Max":0.035,"lo":0.0041,"hi":0.0143},
{"s":20000,"Mean":0.0059,"Min":0.002,"Max":0.0174,"lo":0.0037,"hi":0.0084},
{"s":30000,"Mean":0.0059,"Min":0.002,"Max":0.0174,"lo":0.0037,"hi":0.0084},
{"s":40000,"Mean":0.0059,"Min":0.002,"Max":0.018,"lo":0.0037,"hi":0.0084},
{"s":50000,"Mean":0.006,"Min":0.002,"Max":0.019,"lo":0.0038,"hi":0.0085},
{"s":60000,"Mean":0.006,"Min":0.002,"Max":0.019,"lo":0.0038,"hi":0.0085},
{"s":70000,"Mean":0.0059,"Min":0.002,"Max":0.018,"lo":0.0037,"hi":0.0084},
{"s":80000,"Mean":0.0058,"Min":0.002,"Max":0.021,"lo":0.0036,"hi":0.0083},
{"s":90000,"Mean":0.0059,"Min":0.002,"Max":0.018,"lo":0.0037,"hi":0.0084},
{"s":100000,"Mean":0.0059,"Min":0.002,"Max":0.0174,"lo":0.0037,"hi":0.0084},
{"s":110000,"Mean":0.0059,"Min":0.002,"Max":0.021,"lo":0.0037,"hi":0.0084},
{"s":120000,"Mean":0.0059,"Min":0.002,"Max":0.0174,"lo":0.0037,"hi":0.0084},
{"s":130000,"Mean":0.0059,"Min":0.002,"Max":0.0174,"lo":0.0037,"hi":0.0084},
{"s":140000,"Mean":0.0058,"Min":0.002,"Max":0.017,"lo":0.0036,"hi":0.0083},
{"s":150000,"Mean":0.0059,"Min":0.002,"Max":0.0174,"lo":0.0037,"hi":0.0084},
{"s":160000,"Mean":0.0059,"Min":0.002,"Max":0.017,"lo":0.0037,"hi":0.0084},
{"s":170000,"Mean":0.0059,"Min":0.002,"Max":0.017,"lo":0.0037,"hi":0.0084},
{"s":180000,"Mean":0.006,"Min":0.002,"Max":0.022,"lo":0.0038,"hi":0.0085},
{"s":190000,"Mean":0.0059,"Min":0.002,"Max":0.02,"lo":0.0037,"hi":0.0084},
{"s":200000,"Mean":0.006,"Min":0.002,"Max":0.0235,"lo":0.0038,"hi":0.0085},
{"s":210000,"Mean":0.0059,"Min":0.002,"Max":0.019,"lo":0.0037,"hi":0.0084},
{"s":220000,"Mean":0.0059,"Min":0.002,"Max":0.019,"lo":0.0037,"hi":0.0084},
{"s":230000,"Mean":0.0059,"Min":0.002,"Max":0.0174,"lo":0.0037,"hi":0.0084},
{"s":240000,"Mean":0.0059,"Min":0.002,"Max":0.0163,"lo":0.0037,"hi":0.0084},
{"s":250000,"Mean":0.006,"Min":0.002,"Max":0.019,"lo":0.0038,"hi":0.0085},
{"s":260000,"Mean":0.006,"Min":0.002,"Max":0.017,"lo":0.0038,"hi":0.0085},
{"s":270000,"Mean":0.0059,"Min":0.002,"Max":0.019,"lo":0.0037,"hi":0.0084},
{"s":280000,"Mean":0.0059,"Min":0.002,"Max":0.017,"lo":0.0037,"hi":0.0084},
{"s":290000,"Mean":0.0059,"Min":0.002,"Max":0.018,"lo":0.0037,"hi":0.0084},
{"s":300000,"Mean":0.0059,"Min":0.002,"Max":0.018,"lo":0.0037,"hi":0.0084},
{"s":310000,"Mean":0.0059,"Min":0.002,"Max":0.017,"lo":0.0037,"hi":0.0084},
{"s":320000,"Mean":0.006,"Min":0.002,"Max":0.017,"lo":0.0038,"hi":0.0085},
{"s":330000,"Mean":0.0058,"Min":0.002,"Max":0.017,"lo":0.0036,"hi":0.0083},
{"s":340000,"Mean":0.0058,"Min":0.002,"Max":0.019,"lo":0.0036,"hi":0.0083},
{"s":350000,"Mean":0.0059,"Min":0.002,"Max":0.019,"lo":0.0037,"hi":0.0084},
{"s":360000,"Mean":0.0059,"Min":0.002,"Max":0.019,"lo":0.0037,"hi":0.0084},
{"s":370000,"Mean":0.006,"Min":0.002,"Max":0.019,"lo":0.0038,"hi":0.0085},
{"s":380000,"Mean":0.0059,"Min":0.002,"Max":0.02,"lo":0.0037,"hi":0.0084},
{"s":390000,"Mean":0.0059,"Min":0.002,"Max":0.018,"lo":0.0037,"hi":0.0084},
{"s":400000,"Mean":0.0059,"Min":0.002,"Max":0.019,"lo":0.0037,"hi":0.0084},
{"s":410000,"Mean":0.0058,"Min":0.002,"Max":0.0174,"lo":0.0036,"hi":0.0083},
{"s":420000,"Mean":0.0059,"Min":0.002,"Max":0.018,"lo":0.0037,"hi":0.0084},
{"s":430000,"Mean":0.0059,"Min":0.002,"Max":0.017,"lo":0.0037,"hi":0.0084},
{"s":440000,"Mean":0.0059,"Min":0.002,"Max":0.018,"lo":0.0037,"hi":0.0084},
{"s":450000,"Mean":0.0059,"Min":0.002,"Max":0.017,"lo":0.0037,"hi":0.0084},
{"s":460000,"Mean":0.0059,"Min":0.002,"Max":0.0163,"lo":0.0037,"hi":0.0084},
{"s":470000,"Mean":0.0059,"Min":0.002,"Max":0.0167,"lo":0.0037,"hi":0.0084},
{"s":480000,"Mean":0.006,"Min":0.002,"Max":0.019,"lo":0.0038,"hi":0.0085},
{"s":490000,"Mean":0.0058,"Min":0.002,"Max":0.0167,"lo":0.0036,"hi":0.0083}],
"e_p":[
{"s":10000,"Mean":0.99,"Min":0.57,"Max":1,"lo":0.97,"hi":1.02},
{"s":20000,"Mean":1,"Min":0.97,"Max":1,"lo":0.998,"hi":1.002},
{"s":30000,"Mean":1,"Min":1,"Max":1,"lo":0.998,"hi":1.002},
{"s":40000,"Mean":1,"Min":1,"Max":1,"lo":0.998,"hi":1.002},
{"s":50000,"Mean":1,"Min":1,"Max":1,"lo":0.998,"hi":1.002},
{"s":60000,"Mean":1,"Min":1,"Max":1,"lo":0.998,"hi":1.002},
{"s":70000,"Mean":1,"Min":1,"Max":1,"lo":0.998,"hi":1.002},
{"s":80000,"Mean":1,"Min":0.985,"Max":1,"lo":0.998,"hi":1.002},
{"s":90000,"Mean":1,"Min":1,"Max":1,"lo":0.998,"hi":1.002},
{"s":100000,"Mean":1,"Min":1,"Max":1,"lo":0.998,"hi":1.002},
{"s":110000,"Mean":1,"Min":0.985,"Max":1,"lo":0.998,"hi":1.002},
{"s":120000,"Mean":1,"Min":1,"Max":1,"lo":0.998,"hi":1.002},
{"s":130000,"Mean":1,"Min":1,"Max":1,"lo":0.998,"hi":1.002},
{"s":140000,"Mean":1,"Min":1,"Max":1,"lo":0.998,"hi":1.002},
{"s":150000,"Mean":1,"Min":1,"Max":1,"lo":0.998,"hi":1.002},
{"s":160000,"Mean":1,"Min":1,"Max":1,"lo":0.998,"hi":1.002},
{"s":170000,"Mean":1,"Min":1,"Max":1,"lo":0.998,"hi":1.002},
{"s":180000,"Mean":1,"Min":0.99,"Max":1,"lo":0.998,"hi":1.002},
{"s":190000,"Mean":1,"Min":0.97,"Max":1,"lo":0.998,"hi":1.002},
{"s":200000,"Mean":1,"Min":1,"Max":1,"lo":0.998,"hi":1.002},
{"s":210000,"Mean":1,"Min":0.985,"Max":1,"lo":0.998,"hi":1.002},
{"s":220000,"Mean":1,"Min":0.96,"Max":1,"lo":0.998,"hi":1.002},
{"s":230000,"Mean":1,"Min":1,"Max":1,"lo":0.998,"hi":1.002},
{"s":240000,"Mean":1,"Min":1,"Max":1,"lo":0.998,"hi":1.002},
{"s":250000,"Mean":1,"Min":1,"Max":1,"lo":0.998,"hi":1.002},
{"s":260000,"Mean":1,"Min":1,"Max":1,"lo":0.998,"hi":1.002},
{"s":270000,"Mean":1,"Min":1,"Max":1,"lo":0.998,"hi":1.002},
{"s":280000,"Mean":1,"Min":1,"Max":1,"lo":0.998,"hi":1.002},
{"s":290000,"Mean":1,"Min":1,"Max":1,"lo":0.998,"hi":1.002},
{"s":300000,"Mean":1,"Min":1,"Max":1,"lo":0.998,"hi":1.002},
{"s":310000,"Mean":1,"Min":1,"Max":1,"lo":0.998,"hi":1.002},
{"s":320000,"Mean":1,"Min":1,"Max":1,"lo":0.998,"hi":1.002},
{"s":330000,"Mean":1,"Min":1,"Max":1,"lo":0.998,"hi":1.002},
{"s":340000,"Mean":1,"Min":1,"Max":1,"lo":0.998,"hi":1.002},
{"s":350000,"Mean":1,"Min":1,"Max":1,"lo":0.998,"hi":1.002},
{"s":360000,"Mean":1,"Min":1,"Max":1,"lo":0.998,"hi":1.002},
{"s":370000,"Mean":1,"Min":1,"Max":1,"lo":0.998,"hi":1.002},
{"s":380000,"Mean":1,"Min":1,"Max":1,"lo":0.998,"hi":1.002},
{"s":390000,"Mean":1,"Min":0.995,"Max":1,"lo":0.998,"hi":1.002},
{"s":400000,"Mean":1,"Min":1,"Max":1,"lo":0.998,"hi":1.002},
{"s":410000,"Mean":1,"Min":1,"Max":1,"lo":0.998,"hi":1.002},
{"s":420000,"Mean":1,"Min":1,"Max":1,"lo":0.998,"hi":1.002},
{"s":430000,"Mean":1,"Min":1,"Max":1,"lo":0.998,"hi":1.002},
{"s":440000,"Mean":1,"Min":1,"Max":1,"lo":0.998,"hi":1.002},
{"s":450000,"Mean":1,"Min":1,"Max":1,"lo":0.998,"hi":1.002},
{"s":460000,"Mean":1,"Min":1,"Max":1,"lo":0.998,"hi":1.002},
{"s":470000,"Mean":1,"Min":1,"Max":1,"lo":0.998,"hi":1.002},
{"s":480000,"Mean":1,"Min":1,"Max":1,"lo":0.998,"hi":1.002},
{"s":490000,"Mean":1,"Min":1,"Max":1,"lo":0.998,"hi":1.002}],
"f_d":[
{"s":10000,"Mean":0.011,"Min":0.00102,"Max":0.034,"lo":0.0061,"hi":0.0164},
{"s":20000,"Mean":0.0046,"Min":0.00102,"Max":0.032,"lo":0.0018,"hi":0.0069},
{"s":30000,"Mean":0.0045,"Min":0.00102,"Max":0.019,"lo":0.002,"hi":0.0068},
{"s":40000,"Mean":0.0045,"Min":0.00102,"Max":0.02,"lo":0.0021,"hi":0.0068},
{"s":50000,"Mean":0.0044,"Min":0.00102,"Max":0.036,"lo":0.002,"hi":0.007},
{"s":60000,"Mean":0.0045,"Min":0.00102,"Max":0.034,"lo":0.0021,"hi":0.0072},
{"s":70000,"Mean":0.0046,"Min":0.00102,"Max":0.032,"lo":0.002,"hi":0.0072},
{"s":80000,"Mean":0.0046,"Min":0.00102,"Max":0.057,"lo":0.0018,"hi":0.0074},
{"s":90000,"Mean":0.0045,"Min":0.00102,"Max":0.039,"lo":0.0017,"hi":0.0076},
{"s":100000,"Mean":0.0045,"Min":0.00102,"Max":0.034,"lo":0.0018,"hi":0.0078},
{"s":110000,"Mean":0.0046,"Min":0.00102,"Max":0.063,"lo":0.0017,"hi":0.008},
{"s":120000,"Mean":0.0046,"Min":0.00102,"Max":0.052,"lo":0.0016,"hi":0.0082},
{"s":130000,"Mean":0.0046,"Min":0.00102,"Max":0.047,"lo":0.0015,"hi":0.0082},
{"s":140000,"Mean":0.0046,"Min":0.00102,"Max":0.057,"lo":0.0014,"hi":0.0084},
{"s":150000,"Mean":0.0046,"Min":0.00102,"Max":0.066,"lo":0.0013,"hi":0.0086},
{"s":160000,"Mean":0.0046,"Min":0.00102,"Max":0.063,"lo":0.0013,"hi":0.0086},
{"s":170000,"Mean":0.0046,"Min":0.00102,"Max":0.063,"lo":0.0012,"hi":0.0086},
{"s":180000,"Mean":0.0046,"Min":0.00102,"Max":0.08,"lo":0.0015,"hi":0.0082},
{"s":190000,"Mean":0.0046,"Min":0.00102,"Max":0.063,"lo":0.0015,"hi":0.0078},
{"s":200000,"Mean":0.0045,"Min":0.00102,"Max":0.043,"lo":0.0007,"hi":0.0078},
{"s":210000,"Mean":0.0045,"Min":0.00102,"Max":0.077,"lo":0.0008,"hi":0.008},
{"s":220000,"Mean":0.0046,"Min":0.00102,"Max":0.034,"lo":0.0018,"hi":0.0082},
{"s":230000,"Mean":0.0046,"Min":0.00102,"Max":0.044,"lo":0.0016,"hi":0.0082},
{"s":240000,"Mean":0.0046,"Min":0.00102,"Max":0.032,"lo":0.0016,"hi":0.0084},
{"s":250000,"Mean":0.0046,"Min":0.00102,"Max":0.036,"lo":0.0016,"hi":0.0084},
{"s":260000,"Mean":0.0046,"Min":0.00102,"Max":0.047,"lo":0.0015,"hi":0.0082},
{"s":270000,"Mean":0.0046,"Min":0.00102,"Max":0.066,"lo":0.0013,"hi":0.0082},
{"s":280000,"Mean":0.0046,"Min":0.00102,"Max":0.074,"lo":0.0011,"hi":0.0086},
{"s":290000,"Mean":0.0047,"Min":0.00102,"Max":0.07,"lo":0.0007,"hi":0.009},
{"s":300000,"Mean":0.0048,"Min":0.00102,"Max":0.068,"lo":0.0009,"hi":0.0092},
{"s":310000,"Mean":0.0048,"Min":0.00102,"Max":0.077,"lo":0.0016,"hi":0.0094},
{"s":320000,"Mean":0.0047,"Min":0.00102,"Max":0.049,"lo":0.0014,"hi":0.0094},
{"s":330000,"Mean":0.0047,"Min":0.00102,"Max":0.066,"lo":0.0012,"hi":0.0092},
{"s":340000,"Mean":0.0047,"Min":0.00102,"Max":0.044,"lo":0.0007,"hi":0.009},
{"s":350000,"Mean":0.0047,"Min":0.00102,"Max":0.061,"lo":0.0015,"hi":0.0088},
{"s":360000,"Mean":0.0047,"Min":0.00102,"Max":0.068,"lo":0.0013,"hi":0.0088},
{"s":370000,"Mean":0.0047,"Min":0.00102,"Max":0.066,"lo":0.0012,"hi":0.0088},
{"s":380000,"Mean":0.0047,"Min":0.00102,"Max":0.07,"lo":0.001,"hi":0.0086},
{"s":390000,"Mean":0.0047,"Min":0.00102,"Max":0.063,"lo":0.0006,"hi":0.0084},
{"s":400000,"Mean":0.0047,"Min":0.00102,"Max":0.047,"lo":0.0006,"hi":0.0092},
{"s":410000,"Mean":0.0047,"Min":0.00102,"Max":0.09,"lo":0.0006,"hi":0.0094},
{"s":420000,"Mean":0.0046,"Min":0.00102,"Max":0.074,"lo":0.0007,"hi":0.0092},
{"s":430000,"Mean":0.0046,"Min":0.00102,"Max":0.057,"lo":0.0006,"hi":0.0086},
{"s":440000,"Mean":0.0046,"Min":0.00102,"Max":0.054,"lo":0.0012,"hi":0.0086},
{"s":450000,"Mean":0.0046,"Min":0.00102,"Max":0.052,"lo":0.0014,"hi":0.0078},
{"s":460000,"Mean":0.0045,"Min":0.00102,"Max":0.021,"lo":0.002,"hi":0.0074},
{"s":470000,"Mean":0.0046,"Min":0.00102,"Max":0.061,"lo":0.0011,"hi":0.0078},
{"s":480000,"Mean":0.0046,"Min":0.00102,"Max":0.047,"lo":0.0013,"hi":0.0076},
{"s":490000,"Mean":0.0045,"Min":0.00102,"Max":0.021,"lo":0.0022,"hi":0.0068}],
"f_p":[
{"s":10000,"Mean":0.998,"Min":0.65,"Max":1,"lo":0.985,"hi":1.015},
{"s":20000,"Mean":0.998,"Min":0.72,"Max":1,"lo":0.985,"hi":1.015},
{"s":30000,"Mean":0.998,"Min":1,"Max":1,"lo":0.988,"hi":1.012},
{"s":40000,"Mean":0.998,"Min":1,"Max":1,"lo":0.988,"hi":1.012},
{"s":50000,"Mean":0.998,"Min":0.65,"Max":1,"lo":0.985,"hi":1.015},
{"s":60000,"Mean":0.998,"Min":0.46,"Max":1,"lo":0.985,"hi":1.015},
{"s":70000,"Mean":0.998,"Min":0.8,"Max":1,"lo":0.988,"hi":1.012},
{"s":80000,"Mean":0.998,"Min":0.77,"Max":1,"lo":0.988,"hi":1.012},
{"s":90000,"Mean":0.998,"Min":0.74,"Max":1,"lo":0.985,"hi":1.015},
{"s":100000,"Mean":0.998,"Min":0.6,"Max":1,"lo":0.975,"hi":1.025},
{"s":110000,"Mean":0.998,"Min":0.03,"Max":1,"lo":0.97,"hi":1.03},
{"s":120000,"Mean":0.998,"Min":0.2,"Max":1,"lo":0.97,"hi":1.03},
{"s":130000,"Mean":0.998,"Min":0.4,"Max":1,"lo":0.97,"hi":1.03},
{"s":140000,"Mean":0.998,"Min":0.6,"Max":1,"lo":0.975,"hi":1.025},
{"s":150000,"Mean":0.998,"Min":0.96,"Max":1,"lo":0.985,"hi":1.015},
{"s":160000,"Mean":0.998,"Min":0.36,"Max":1,"lo":0.985,"hi":1.015},
{"s":170000,"Mean":0.998,"Min":0.5,"Max":1,"lo":0.985,"hi":1.015},
{"s":180000,"Mean":0.998,"Min":0.41,"Max":1,"lo":0.985,"hi":1.015},
{"s":190000,"Mean":0.998,"Min":0.55,"Max":1,"lo":0.985,"hi":1.015},
{"s":200000,"Mean":0.998,"Min":0.92,"Max":1,"lo":0.975,"hi":1.025},
{"s":210000,"Mean":0.998,"Min":0.5,"Max":1,"lo":0.978,"hi":1.022},
{"s":220000,"Mean":0.998,"Min":0.06,"Max":1,"lo":0.975,"hi":1.025},
{"s":230000,"Mean":0.998,"Min":0.75,"Max":1,"lo":0.978,"hi":1.022},
{"s":240000,"Mean":0.998,"Min":0.22,"Max":1,"lo":0.975,"hi":1.025},
{"s":250000,"Mean":0.998,"Min":0.78,"Max":1,"lo":0.985,"hi":1.015},
{"s":260000,"Mean":0.998,"Min":0.6,"Max":1,"lo":0.978,"hi":1.022},
{"s":270000,"Mean":0.998,"Min":0.26,"Max":1,"lo":0.975,"hi":1.025},
{"s":280000,"Mean":0.998,"Min":0.97,"Max":1,"lo":0.985,"hi":1.015},
{"s":290000,"Mean":0.998,"Min":0.97,"Max":1,"lo":0.985,"hi":1.015},
{"s":300000,"Mean":0.998,"Min":0.5,"Max":1,"lo":0.978,"hi":1.022},
{"s":310000,"Mean":0.998,"Min":0.68,"Max":1,"lo":0.975,"hi":1.025},
{"s":320000,"Mean":0.998,"Min":0.28,"Max":1,"lo":0.98,"hi":1.02},
{"s":330000,"Mean":0.998,"Min":0.45,"Max":1,"lo":0.985,"hi":1.015},
{"s":340000,"Mean":0.998,"Min":0.65,"Max":1,"lo":0.978,"hi":1.022},
{"s":350000,"Mean":0.998,"Min":0.37,"Max":1,"lo":0.975,"hi":1.025},
{"s":360000,"Mean":0.998,"Min":0.45,"Max":1,"lo":0.978,"hi":1.022},
{"s":370000,"Mean":0.998,"Min":0.32,"Max":1,"lo":0.978,"hi":1.022},
{"s":380000,"Mean":0.998,"Min":0.4,"Max":1,"lo":0.985,"hi":1.015},
{"s":390000,"Mean":0.998,"Min":0.97,"Max":1,"lo":0.985,"hi":1.015},
{"s":400000,"Mean":0.998,"Min":0.38,"Max":1,"lo":0.978,"hi":1.022},
{"s":410000,"Mean":0.998,"Min":0.43,"Max":1,"lo":0.975,"hi":1.025},
{"s":420000,"Mean":0.998,"Min":0.72,"Max":1,"lo":0.98,"hi":1.02},
{"s":430000,"Mean":0.998,"Min":0.65,"Max":1,"lo":0.975,"hi":1.025},
{"s":440000,"Mean":0.998,"Min":0.15,"Max":1,"lo":0.965,"hi":1.035},
{"s":450000,"Mean":0.998,"Min":0.1,"Max":1,"lo":0.965,"hi":1.035},
{"s":460000,"Mean":0.998,"Min":0.95,"Max":1,"lo":0.975,"hi":1.025},
{"s":470000,"Mean":0.998,"Min":0.6,"Max":1,"lo":0.98,"hi":1.02},
{"s":480000,"Mean":0.998,"Min":0.27,"Max":1,"lo":0.975,"hi":1.025},
{"s":490000,"Mean":0.998,"Min":1,"Max":1,"lo":0.985,"hi":1.015}]
},
"resolve":{"scale":{"color":"independent","strokeDash":"independent","strokeWidth":"independent"},"legend":{"color":"independent","strokeDash":"independent","strokeWidth":"independent"}},
"spacing":50,
"vconcat":[
{"columns":3,"align":"each","spacing":{"row":5,"column":54},
 "resolve":{"scale":{"color":"independent","strokeDash":"independent","strokeWidth":"independent"},"legend":{"color":"independent","strokeDash":"independent","strokeWidth":"independent"}},
 "concat":[
  {"width":330,"height":116,"title":"Slug Small 1 Motif","data":{"name":"a_d"},"resolve":{"axis":{"x":"independent","y":"independent"}},"layer":[
   {"mark":{"type":"area","color":"#808080","opacity":0.5,"clip":true},"encoding":{"x":{"field":"s","type":"quantitative","scale":{"domain":[0,500000],"nice":false},"axis":{"values":[0,100000,200000,300000,400000,500000],"labels":false,"title":null,"grid":true}},"y":{"field":"lo","type":"quantitative","scale":{"type":"log","domain":[0.001,1],"nice":false},"axis":{"values":[0.001,0.01,0.1,1],"title":"Distance","grid":true,"labelExpr":"datum.value > 0.5 ? '10⁰' : datum.value > 0.05 ? '10⁻¹' : datum.value > 0.005 ? '10⁻²' : '10⁻³'"}},"y2":{"field":"hi"}}},
   {"transform":[{"fold":["Mean","Min","Max"],"as":["series","v"]}],"mark":{"type":"line","clip":true},"encoding":{"x":{"field":"s","type":"quantitative","scale":{"domain":[0,500000],"nice":false},"axis":{"orient":"top","values":[0,100000,200000,300000,400000,500000],"labels":false,"title":null,"grid":false}},"y":{"field":"v","type":"quantitative","scale":{"type":"log","domain":[0.001,1],"nice":false},"axis":{"orient":"right","values":[0.001,0.01,0.1,1],"labels":false,"title":null,"grid":false}},
    "color":{"field":"series","type":"nominal","scale":{"domain":["Mean","Min","Max","1 std dev range"],"range":["#000000","#000000","#000000","#808080"]},"legend":{"orient":"none","legendX":47,"legendY":117,"direction":"horizontal","columns":4,"title":null}},
    "strokeDash":{"field":"series","type":"nominal","scale":{"domain":["Mean","Min","Max","1 std dev range"],"range":[[1,0],[1.2,2.8],[5,3.5],[1,0]]},"legend":{"orient":"none","legendX":47,"legendY":117,"direction":"horizontal","columns":4,"title":null}},
    "strokeWidth":{"field":"series","type":"nominal","scale":{"domain":["Mean","Min","Max","1 std dev range"],"range":[3,1.4,1.6,8]},"legend":{"orient":"none","legendX":47,"legendY":117,"direction":"horizontal","columns":4,"title":null}}}}]},
  {"width":330,"height":116,"title":"Slug Medium 1 Motif","data":{"name":"b_d"},"resolve":{"axis":{"x":"independent","y":"independent"}},"layer":[
   {"mark":{"type":"area","color":"#808080","opacity":0.5,"clip":true},"encoding":{"x":{"field":"s","type":"quantitative","scale":{"domain":[0,500000],"nice":false},"axis":{"values":[0,100000,200000,300000,400000,500000],"labels":false,"title":null,"grid":true}},"y":{"field":"lo","type":"quantitative","scale":{"type":"log","domain":[0.001,1],"nice":false},"axis":{"values":[0.001,0.01,0.1,1],"title":"Distance","grid":true,"labelExpr":"datum.value > 0.5 ? '10⁰' : datum.value > 0.05 ? '10⁻¹' : datum.value > 0.005 ? '10⁻²' : '10⁻³'"}},"y2":{"field":"hi"}}},
   {"transform":[{"fold":["Mean","Min","Max"],"as":["series","v"]}],"mark":{"type":"line","clip":true},"encoding":{"x":{"field":"s","type":"quantitative","scale":{"domain":[0,500000],"nice":false},"axis":{"orient":"top","values":[0,100000,200000,300000,400000,500000],"labels":false,"title":null,"grid":false}},"y":{"field":"v","type":"quantitative","scale":{"type":"log","domain":[0.001,1],"nice":false},"axis":{"orient":"right","values":[0.001,0.01,0.1,1],"labels":false,"title":null,"grid":false}},
    "color":{"field":"series","type":"nominal","scale":{"domain":["Mean","Min","Max","1 std dev range"],"range":["#000000","#000000","#000000","#808080"]},"legend":{"orient":"none","legendX":47,"legendY":117,"direction":"horizontal","columns":4,"title":null}},
    "strokeDash":{"field":"series","type":"nominal","scale":{"domain":["Mean","Min","Max","1 std dev range"],"range":[[1,0],[1.2,2.8],[5,3.5],[1,0]]},"legend":{"orient":"none","legendX":47,"legendY":117,"direction":"horizontal","columns":4,"title":null}},
    "strokeWidth":{"field":"series","type":"nominal","scale":{"domain":["Mean","Min","Max","1 std dev range"],"range":[3,1.4,1.6,8]},"legend":{"orient":"none","legendX":47,"legendY":117,"direction":"horizontal","columns":4,"title":null}}}}]},
  {"width":330,"height":116,"title":"Slug Large 1 Motif","data":{"name":"c_d"},"resolve":{"axis":{"x":"independent","y":"independent"}},"layer":[
   {"mark":{"type":"area","color":"#808080","opacity":0.5,"clip":true},"encoding":{"x":{"field":"s","type":"quantitative","scale":{"domain":[0,500000],"nice":false},"axis":{"values":[0,100000,200000,300000,400000,500000],"labels":false,"title":null,"grid":true}},"y":{"field":"lo","type":"quantitative","scale":{"type":"log","domain":[0.001,1],"nice":false},"axis":{"values":[0.001,0.01,0.1,1],"title":"Distance","grid":true,"labelExpr":"datum.value > 0.5 ? '10⁰' : datum.value > 0.05 ? '10⁻¹' : datum.value > 0.005 ? '10⁻²' : '10⁻³'"}},"y2":{"field":"hi"}}},
   {"transform":[{"fold":["Mean","Min","Max"],"as":["series","v"]}],"mark":{"type":"line","clip":true},"encoding":{"x":{"field":"s","type":"quantitative","scale":{"domain":[0,500000],"nice":false},"axis":{"orient":"top","values":[0,100000,200000,300000,400000,500000],"labels":false,"title":null,"grid":false}},"y":{"field":"v","type":"quantitative","scale":{"type":"log","domain":[0.001,1],"nice":false},"axis":{"orient":"right","values":[0.001,0.01,0.1,1],"labels":false,"title":null,"grid":false}},
    "color":{"field":"series","type":"nominal","scale":{"domain":["Mean","Min","Max","1 std dev range"],"range":["#000000","#000000","#000000","#808080"]},"legend":{"orient":"none","legendX":47,"legendY":117,"direction":"horizontal","columns":4,"title":null}},
    "strokeDash":{"field":"series","type":"nominal","scale":{"domain":["Mean","Min","Max","1 std dev range"],"range":[[1,0],[1.2,2.8],[5,3.5],[1,0]]},"legend":{"orient":"none","legendX":47,"legendY":117,"direction":"horizontal","columns":4,"title":null}},
    "strokeWidth":{"field":"series","type":"nominal","scale":{"domain":["Mean","Min","Max","1 std dev range"],"range":[3,1.4,1.6,8]},"legend":{"orient":"none","legendX":47,"legendY":117,"direction":"horizontal","columns":4,"title":null}}}}]},
  {"width":330,"height":116,"title":{"text":"(a) Slug Small","orient":"bottom","font":"Liberation Serif","fontSize":14,"offset":24},"data":{"name":"a_p"},"resolve":{"axis":{"x":"independent","y":"independent"}},"layer":[
   {"mark":{"type":"area","color":"#808080","opacity":0.5,"clip":true},"encoding":{"x":{"field":"s","type":"quantitative","scale":{"domain":[0,500000],"nice":false},"axis":{"values":[0,100000,200000,300000,400000,500000],"format":"d","title":"Step","grid":true}},"y":{"field":"lo","type":"quantitative","scale":{"domain":[0,1.1],"nice":false,"zero":false},"axis":{"values":[0,0.2,0.4,0.6,0.8,1],"format":".1f","title":"Probability","grid":true}},"y2":{"field":"hi"}}},
   {"transform":[{"fold":["Mean","Min","Max"],"as":["series","v"]}],"mark":{"type":"line","clip":true},"encoding":{"x":{"field":"s","type":"quantitative","scale":{"domain":[0,500000],"nice":false},"axis":{"orient":"top","values":[0,100000,200000,300000,400000,500000],"labels":false,"title":null,"grid":false}},"y":{"field":"v","type":"quantitative","scale":{"domain":[0,1.1],"nice":false,"zero":false},"axis":{"orient":"right","values":[0,0.2,0.4,0.6,0.8,1],"labels":false,"title":null,"grid":false}},
    "color":{"field":"series","type":"nominal","scale":{"domain":["Mean","Min","Max","1 std dev range"],"range":["#000000","#000000","#000000","#808080"]},"legend":null},
    "strokeDash":{"field":"series","type":"nominal","scale":{"domain":["Mean","Min","Max","1 std dev range"],"range":[[1,0],[1.2,2.8],[5,3.5],[1,0]]},"legend":null},
    "strokeWidth":{"field":"series","type":"nominal","scale":{"domain":["Mean","Min","Max","1 std dev range"],"range":[3,1.4,1.6,8]},"legend":null}}}]},
  {"width":330,"height":116,"title":{"text":"(b) Slug Medium","orient":"bottom","font":"Liberation Serif","fontSize":14,"offset":24},"data":{"name":"b_p"},"resolve":{"axis":{"x":"independent","y":"independent"}},"layer":[
   {"mark":{"type":"area","color":"#808080","opacity":0.5,"clip":true},"encoding":{"x":{"field":"s","type":"quantitative","scale":{"domain":[0,500000],"nice":false},"axis":{"values":[0,100000,200000,300000,400000,500000],"format":"d","title":"Step","grid":true}},"y":{"field":"lo","type":"quantitative","scale":{"domain":[0,1.1],"nice":false,"zero":false},"axis":{"values":[0,0.2,0.4,0.6,0.8,1],"format":".1f","title":"Probability","grid":true}},"y2":{"field":"hi"}}},
   {"transform":[{"fold":["Mean","Min","Max"],"as":["series","v"]}],"mark":{"type":"line","clip":true},"encoding":{"x":{"field":"s","type":"quantitative","scale":{"domain":[0,500000],"nice":false},"axis":{"orient":"top","values":[0,100000,200000,300000,400000,500000],"labels":false,"title":null,"grid":false}},"y":{"field":"v","type":"quantitative","scale":{"domain":[0,1.1],"nice":false,"zero":false},"axis":{"orient":"right","values":[0,0.2,0.4,0.6,0.8,1],"labels":false,"title":null,"grid":false}},
    "color":{"field":"series","type":"nominal","scale":{"domain":["Mean","Min","Max","1 std dev range"],"range":["#000000","#000000","#000000","#808080"]},"legend":null},
    "strokeDash":{"field":"series","type":"nominal","scale":{"domain":["Mean","Min","Max","1 std dev range"],"range":[[1,0],[1.2,2.8],[5,3.5],[1,0]]},"legend":null},
    "strokeWidth":{"field":"series","type":"nominal","scale":{"domain":["Mean","Min","Max","1 std dev range"],"range":[3,1.4,1.6,8]},"legend":null}}}]},
  {"width":330,"height":116,"title":{"text":"(c) Slug Large","orient":"bottom","font":"Liberation Serif","fontSize":14,"offset":24},"data":{"name":"c_p"},"resolve":{"axis":{"x":"independent","y":"independent"}},"layer":[
   {"mark":{"type":"area","color":"#808080","opacity":0.5,"clip":true},"encoding":{"x":{"field":"s","type":"quantitative","scale":{"domain":[0,500000],"nice":false},"axis":{"values":[0,100000,200000,300000,400000,500000],"format":"d","title":"Step","grid":true}},"y":{"field":"lo","type":"quantitative","scale":{"domain":[0,1.1],"nice":false,"zero":false},"axis":{"values":[0,0.2,0.4,0.6,0.8,1],"format":".1f","title":"Probability","grid":true}},"y2":{"field":"hi"}}},
   {"transform":[{"fold":["Mean","Min","Max"],"as":["series","v"]}],"mark":{"type":"line","clip":true},"encoding":{"x":{"field":"s","type":"quantitative","scale":{"domain":[0,500000],"nice":false},"axis":{"orient":"top","values":[0,100000,200000,300000,400000,500000],"labels":false,"title":null,"grid":false}},"y":{"field":"v","type":"quantitative","scale":{"domain":[0,1.1],"nice":false,"zero":false},"axis":{"orient":"right","values":[0,0.2,0.4,0.6,0.8,1],"labels":false,"title":null,"grid":false}},
    "color":{"field":"series","type":"nominal","scale":{"domain":["Mean","Min","Max","1 std dev range"],"range":["#000000","#000000","#000000","#808080"]},"legend":null},
    "strokeDash":{"field":"series","type":"nominal","scale":{"domain":["Mean","Min","Max","1 std dev range"],"range":[[1,0],[1.2,2.8],[5,3.5],[1,0]]},"legend":null},
    "strokeWidth":{"field":"series","type":"nominal","scale":{"domain":["Mean","Min","Max","1 std dev range"],"range":[3,1.4,1.6,8]},"legend":null}}}]}
 ]},
{"columns":3,"align":"each","spacing":{"row":5,"column":54},
 "resolve":{"scale":{"color":"independent","strokeDash":"independent","strokeWidth":"independent"},"legend":{"color":"independent","strokeDash":"independent","strokeWidth":"independent"}},
 "concat":[
  {"width":330,"height":116,"title":"Snail Small 1 Motif","data":{"name":"d_d"},"resolve":{"axis":{"x":"independent","y":"independent"}},"layer":[
   {"mark":{"type":"area","color":"#808080","opacity":0.5,"clip":true},"encoding":{"x":{"field":"s","type":"quantitative","scale":{"domain":[0,500000],"nice":false},"axis":{"values":[0,100000,200000,300000,400000,500000],"labels":false,"title":null,"grid":true}},"y":{"field":"lo","type":"quantitative","scale":{"type":"log","domain":[0.001,1],"nice":false},"axis":{"values":[0.001,0.01,0.1,1],"title":"Distance","grid":true,"labelExpr":"datum.value > 0.5 ? '10⁰' : datum.value > 0.05 ? '10⁻¹' : datum.value > 0.005 ? '10⁻²' : '10⁻³'"}},"y2":{"field":"hi"}}},
   {"transform":[{"fold":["Mean","Min","Max"],"as":["series","v"]}],"mark":{"type":"line","clip":true},"encoding":{"x":{"field":"s","type":"quantitative","scale":{"domain":[0,500000],"nice":false},"axis":{"orient":"top","values":[0,100000,200000,300000,400000,500000],"labels":false,"title":null,"grid":false}},"y":{"field":"v","type":"quantitative","scale":{"type":"log","domain":[0.001,1],"nice":false},"axis":{"orient":"right","values":[0.001,0.01,0.1,1],"labels":false,"title":null,"grid":false}},
    "color":{"field":"series","type":"nominal","scale":{"domain":["Mean","Min","Max","1 std dev range"],"range":["#000000","#000000","#000000","#808080"]},"legend":{"orient":"none","legendX":47,"legendY":117,"direction":"horizontal","columns":4,"title":null}},
    "strokeDash":{"field":"series","type":"nominal","scale":{"domain":["Mean","Min","Max","1 std dev range"],"range":[[1,0],[1.2,2.8],[5,3.5],[1,0]]},"legend":{"orient":"none","legendX":47,"legendY":117,"direction":"horizontal","columns":4,"title":null}},
    "strokeWidth":{"field":"series","type":"nominal","scale":{"domain":["Mean","Min","Max","1 std dev range"],"range":[3,1.4,1.6,8]},"legend":{"orient":"none","legendX":47,"legendY":117,"direction":"horizontal","columns":4,"title":null}}}}]},
  {"width":330,"height":116,"title":"Snail Medium 1 Motif","data":{"name":"e_d"},"resolve":{"axis":{"x":"independent","y":"independent"}},"layer":[
   {"mark":{"type":"area","color":"#808080","opacity":0.5,"clip":true},"encoding":{"x":{"field":"s","type":"quantitative","scale":{"domain":[0,500000],"nice":false},"axis":{"values":[0,100000,200000,300000,400000,500000],"labels":false,"title":null,"grid":true}},"y":{"field":"lo","type":"quantitative","scale":{"type":"log","domain":[0.001,1],"nice":false},"axis":{"values":[0.001,0.01,0.1,1],"title":"Distance","grid":true,"labelExpr":"datum.value > 0.5 ? '10⁰' : datum.value > 0.05 ? '10⁻¹' : datum.value > 0.005 ? '10⁻²' : '10⁻³'"}},"y2":{"field":"hi"}}},
   {"transform":[{"fold":["Mean","Min","Max"],"as":["series","v"]}],"mark":{"type":"line","clip":true},"encoding":{"x":{"field":"s","type":"quantitative","scale":{"domain":[0,500000],"nice":false},"axis":{"orient":"top","values":[0,100000,200000,300000,400000,500000],"labels":false,"title":null,"grid":false}},"y":{"field":"v","type":"quantitative","scale":{"type":"log","domain":[0.001,1],"nice":false},"axis":{"orient":"right","values":[0.001,0.01,0.1,1],"labels":false,"title":null,"grid":false}},
    "color":{"field":"series","type":"nominal","scale":{"domain":["Mean","Min","Max","1 std dev range"],"range":["#000000","#000000","#000000","#808080"]},"legend":{"orient":"none","legendX":47,"legendY":117,"direction":"horizontal","columns":4,"title":null}},
    "strokeDash":{"field":"series","type":"nominal","scale":{"domain":["Mean","Min","Max","1 std dev range"],"range":[[1,0],[1.2,2.8],[5,3.5],[1,0]]},"legend":{"orient":"none","legendX":47,"legendY":117,"direction":"horizontal","columns":4,"title":null}},
    "strokeWidth":{"field":"series","type":"nominal","scale":{"domain":["Mean","Min","Max","1 std dev range"],"range":[3,1.4,1.6,8]},"legend":{"orient":"none","legendX":47,"legendY":117,"direction":"horizontal","columns":4,"title":null}}}}]},
  {"width":330,"height":116,"title":"Snail Large 1 Motif","data":{"name":"f_d"},"resolve":{"axis":{"x":"independent","y":"independent"}},"layer":[
   {"mark":{"type":"area","color":"#808080","opacity":0.5,"clip":true},"encoding":{"x":{"field":"s","type":"quantitative","scale":{"domain":[0,500000],"nice":false},"axis":{"values":[0,100000,200000,300000,400000,500000],"labels":false,"title":null,"grid":true}},"y":{"field":"lo","type":"quantitative","scale":{"type":"log","domain":[0.001,1],"nice":false},"axis":{"values":[0.001,0.01,0.1,1],"title":"Distance","grid":true,"labelExpr":"datum.value > 0.5 ? '10⁰' : datum.value > 0.05 ? '10⁻¹' : datum.value > 0.005 ? '10⁻²' : '10⁻³'"}},"y2":{"field":"hi"}}},
   {"transform":[{"fold":["Mean","Min","Max"],"as":["series","v"]}],"mark":{"type":"line","clip":true},"encoding":{"x":{"field":"s","type":"quantitative","scale":{"domain":[0,500000],"nice":false},"axis":{"orient":"top","values":[0,100000,200000,300000,400000,500000],"labels":false,"title":null,"grid":false}},"y":{"field":"v","type":"quantitative","scale":{"type":"log","domain":[0.001,1],"nice":false},"axis":{"orient":"right","values":[0.001,0.01,0.1,1],"labels":false,"title":null,"grid":false}},
    "color":{"field":"series","type":"nominal","scale":{"domain":["Mean","Min","Max","1 std dev range"],"range":["#000000","#000000","#000000","#808080"]},"legend":{"orient":"none","legendX":47,"legendY":117,"direction":"horizontal","columns":4,"title":null}},
    "strokeDash":{"field":"series","type":"nominal","scale":{"domain":["Mean","Min","Max","1 std dev range"],"range":[[1,0],[1.2,2.8],[5,3.5],[1,0]]},"legend":{"orient":"none","legendX":47,"legendY":117,"direction":"horizontal","columns":4,"title":null}},
    "strokeWidth":{"field":"series","type":"nominal","scale":{"domain":["Mean","Min","Max","1 std dev range"],"range":[3,1.4,1.6,8]},"legend":{"orient":"none","legendX":47,"legendY":117,"direction":"horizontal","columns":4,"title":null}}}}]},
  {"width":330,"height":116,"title":{"text":"(d) Snail Small","orient":"bottom","font":"Liberation Serif","fontSize":14,"offset":19},"data":{"name":"d_p"},"resolve":{"axis":{"x":"independent","y":"independent"}},"layer":[
   {"mark":{"type":"area","color":"#808080","opacity":0.5,"clip":true},"encoding":{"x":{"field":"s","type":"quantitative","scale":{"domain":[0,500000],"nice":false},"axis":{"values":[0,100000,200000,300000,400000,500000],"format":"d","title":"Step","grid":true}},"y":{"field":"lo","type":"quantitative","scale":{"domain":[0,1.1],"nice":false,"zero":false},"axis":{"values":[0,0.2,0.4,0.6,0.8,1],"format":".1f","title":"Probability","grid":true}},"y2":{"field":"hi"}}},
   {"transform":[{"fold":["Mean","Min","Max"],"as":["series","v"]}],"mark":{"type":"line","clip":true},"encoding":{"x":{"field":"s","type":"quantitative","scale":{"domain":[0,500000],"nice":false},"axis":{"orient":"top","values":[0,100000,200000,300000,400000,500000],"labels":false,"title":null,"grid":false}},"y":{"field":"v","type":"quantitative","scale":{"domain":[0,1.1],"nice":false,"zero":false},"axis":{"orient":"right","values":[0,0.2,0.4,0.6,0.8,1],"labels":false,"title":null,"grid":false}},
    "color":{"field":"series","type":"nominal","scale":{"domain":["Mean","Min","Max","1 std dev range"],"range":["#000000","#000000","#000000","#808080"]},"legend":null},
    "strokeDash":{"field":"series","type":"nominal","scale":{"domain":["Mean","Min","Max","1 std dev range"],"range":[[1,0],[1.2,2.8],[5,3.5],[1,0]]},"legend":null},
    "strokeWidth":{"field":"series","type":"nominal","scale":{"domain":["Mean","Min","Max","1 std dev range"],"range":[3,1.4,1.6,8]},"legend":null}}}]},
  {"width":330,"height":116,"title":{"text":"(e) Snail Medium","orient":"bottom","font":"Liberation Serif","fontSize":14,"offset":19},"data":{"name":"e_p"},"resolve":{"axis":{"x":"independent","y":"independent"}},"layer":[
   {"mark":{"type":"area","color":"#808080","opacity":0.5,"clip":true},"encoding":{"x":{"field":"s","type":"quantitative","scale":{"domain":[0,500000],"nice":false},"axis":{"values":[0,100000,200000,300000,400000,500000],"format":"d","title":"Step","grid":true}},"y":{"field":"lo","type":"quantitative","scale":{"domain":[0,1.1],"nice":false,"zero":false},"axis":{"values":[0,0.2,0.4,0.6,0.8,1],"format":".1f","title":"Probability","grid":true}},"y2":{"field":"hi"}}},
   {"transform":[{"fold":["Mean","Min","Max"],"as":["series","v"]}],"mark":{"type":"line","clip":true},"encoding":{"x":{"field":"s","type":"quantitative","scale":{"domain":[0,500000],"nice":false},"axis":{"orient":"top","values":[0,100000,200000,300000,400000,500000],"labels":false,"title":null,"grid":false}},"y":{"field":"v","type":"quantitative","scale":{"domain":[0,1.1],"nice":false,"zero":false},"axis":{"orient":"right","values":[0,0.2,0.4,0.6,0.8,1],"labels":false,"title":null,"grid":false}},
    "color":{"field":"series","type":"nominal","scale":{"domain":["Mean","Min","Max","1 std dev range"],"range":["#000000","#000000","#000000","#808080"]},"legend":null},
    "strokeDash":{"field":"series","type":"nominal","scale":{"domain":["Mean","Min","Max","1 std dev range"],"range":[[1,0],[1.2,2.8],[5,3.5],[1,0]]},"legend":null},
    "strokeWidth":{"field":"series","type":"nominal","scale":{"domain":["Mean","Min","Max","1 std dev range"],"range":[3,1.4,1.6,8]},"legend":null}}}]},
  {"width":330,"height":116,"title":{"text":"(f) Snail Large","orient":"bottom","font":"Liberation Serif","fontSize":14,"offset":19},"data":{"name":"f_p"},"resolve":{"axis":{"x":"independent","y":"independent"}},"layer":[
   {"mark":{"type":"area","color":"#808080","opacity":0.5,"clip":true},"encoding":{"x":{"field":"s","type":"quantitative","scale":{"domain":[0,500000],"nice":false},"axis":{"values":[0,100000,200000,300000,400000,500000],"format":"d","title":"Step","grid":true}},"y":{"field":"lo","type":"quantitative","scale":{"domain":[0,1.1],"nice":false,"zero":false},"axis":{"values":[0,0.2,0.4,0.6,0.8,1],"format":".1f","title":"Probability","grid":true}},"y2":{"field":"hi"}}},
   {"transform":[{"fold":["Mean","Min","Max"],"as":["series","v"]}],"mark":{"type":"line","clip":true},"encoding":{"x":{"field":"s","type":"quantitative","scale":{"domain":[0,500000],"nice":false},"axis":{"orient":"top","values":[0,100000,200000,300000,400000,500000],"labels":false,"title":null,"grid":false}},"y":{"field":"v","type":"quantitative","scale":{"domain":[0,1.1],"nice":false,"zero":false},"axis":{"orient":"right","values":[0,0.2,0.4,0.6,0.8,1],"labels":false,"title":null,"grid":false}},
    "color":{"field":"series","type":"nominal","scale":{"domain":["Mean","Min","Max","1 std dev range"],"range":["#000000","#000000","#000000","#808080"]},"legend":null},
    "strokeDash":{"field":"series","type":"nominal","scale":{"domain":["Mean","Min","Max","1 std dev range"],"range":[[1,0],[1.2,2.8],[5,3.5],[1,0]]},"legend":null},
    "strokeWidth":{"field":"series","type":"nominal","scale":{"domain":["Mean","Min","Max","1 std dev range"],"range":[3,1.4,1.6,8]},"legend":null}}}]}
 ]}
]
}
